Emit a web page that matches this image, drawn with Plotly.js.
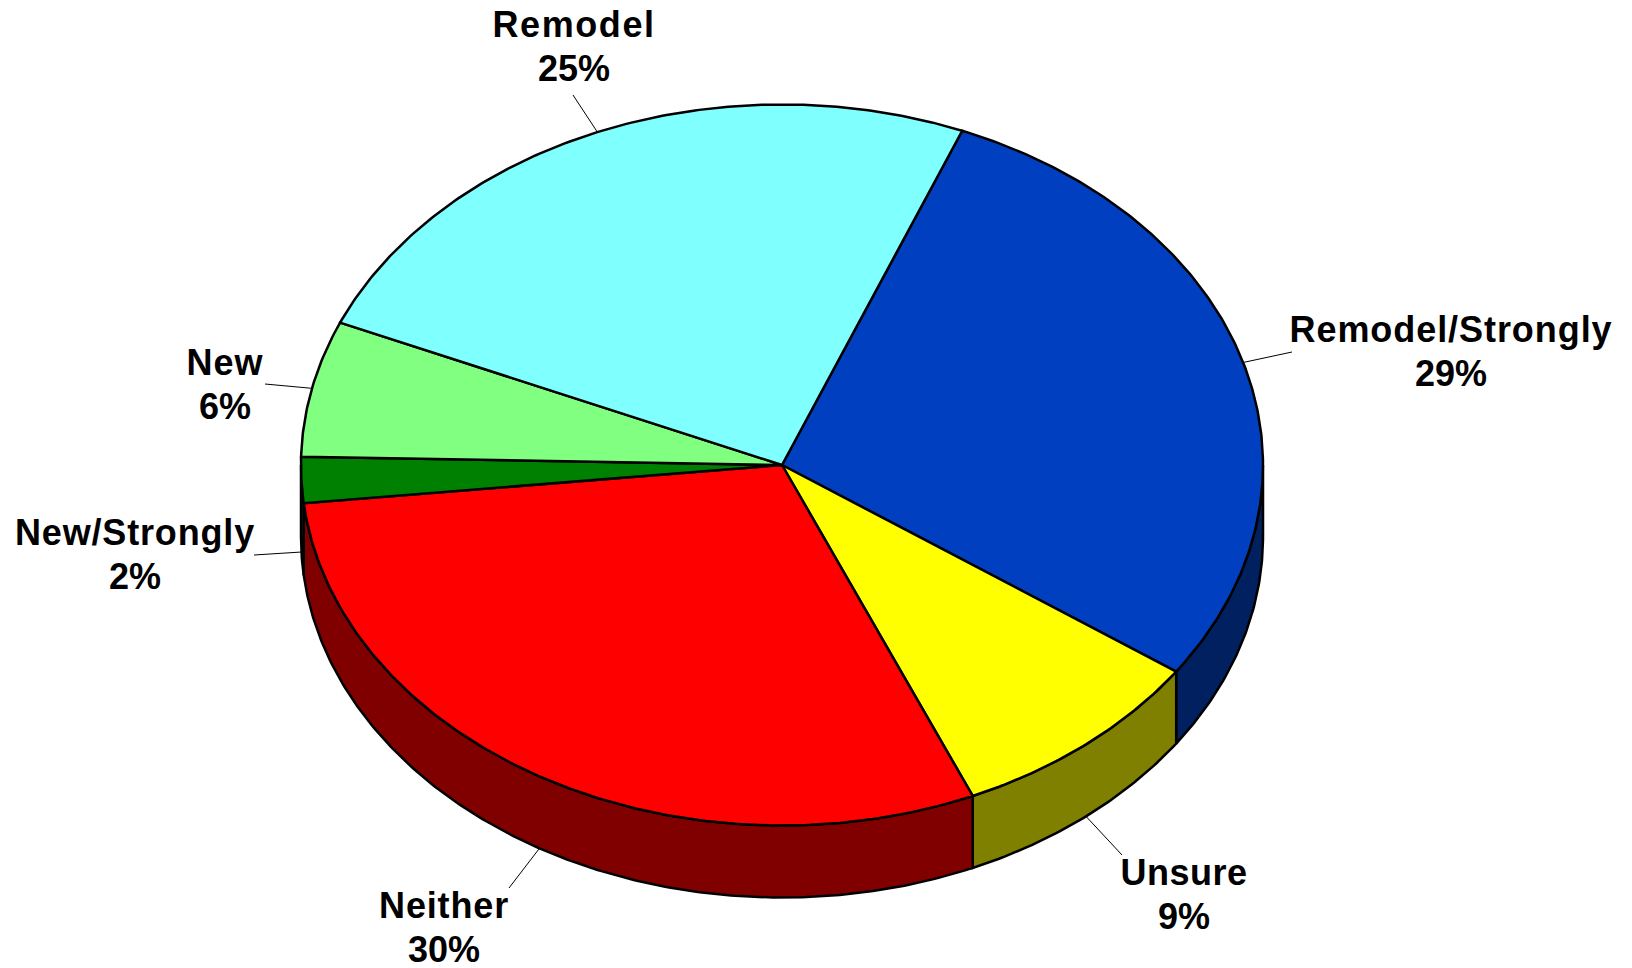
<!DOCTYPE html>
<html><head><meta charset="utf-8">
<script src="https://cdn.plot.ly/plotly-3.0.1.min.js"></script>
<style>html,body{margin:0;padding:0;background:#fff}#c{width:1632px;height:968px}</style>
</head><body><div id="c"></div>
<script>
const categories=["Remodel/Strongly","Unsure","Neither","New/Strongly","New","Remodel"];
const shares=[28.6,8.8,29.8,2.05,6.1,24.65];
const tickLabels=["29%","9%","30%","2%","6%","25%"];
const topColors=["#0040C0","#FFFF00","#FF0000","#008000","#80FF80","#80FFFF"];
const sideColors=["#002060","#808000","#800000","#004000","#408040","#408080"];
const labelPos=[[1451,351],[1184,894],[444,927],[135,554],[225,384],[574,46]];
const labelSpacing=[0.94,0.5,0.85,0.83,1,1.57];
const leaderEnds=[[1292,352],[1122,855],[509,888],[254,555],[265,384],[573,95]];
const leaderShift=[0,0,0,0,0,-0.2];
const startDeg=22, cx=782, cy=465, rx=481, ry=360.5, depth=72, lineGap=22;
const pt=(deg,dy=0)=>{const t=deg*Math.PI/180;return [cx+rx*Math.sin(t),cy-ry*Math.cos(t)+dy];};
const total=shares.reduce((a,b)=>a+b,0);
let a=startDeg; const arcs=shares.map(s=>{const r=[a,a+s/total*360];a=r[1];return r;});
const arcPts=(a0,a1,dy=0)=>{const o=[];const n=Math.max(2,Math.ceil((a1-a0)*2));for(let i=0;i<=n;i++)o.push(pt(a0+(a1-a0)*i/n,dy));return o;};
const traces=[];
const poly=(p,fill,w=2.5)=>traces.push({type:'scatter',mode:'lines',x:p.map(q=>q[0]),y:p.map(q=>q[1]),fill:'toself',fillcolor:fill,line:{color:'#000',width:w,shape:'linear'},hoverinfo:'skip',showlegend:false});
arcs.forEach((r,i)=>{
  const s=Math.max(r[0],90),e=Math.min(r[1],270);
  if(s<e){const top=arcPts(s,e),bot=arcPts(s,e,depth).reverse();poly(top.concat(bot,[top[0]]),sideColors[i]);}
});
arcs.forEach((r,i)=>{poly([[cx,cy]].concat(arcPts(r[0],r[1]),[[cx,cy]]),topColors[i]);});
arcs.forEach((r,i)=>{
  const mid=(r[0]+r[1])/2+leaderShift[i], side=(mid>90&&mid<270)?depth:0;
  const p=pt(mid,side);
  traces.push({type:'scatter',mode:'lines',x:[p[0],leaderEnds[i][0]],y:[p[1],leaderEnds[i][1]],line:{color:'#000',width:1},hoverinfo:'skip',showlegend:false});
});
const font={family:'Liberation Sans, Arial, sans-serif',size:36,color:'#000',weight:700};
const annotations=[];
categories.forEach((c,i)=>{
  annotations.push({x:labelPos[i][0],y:labelPos[i][1]-lineGap,xref:'x',yref:'y',text:c,showarrow:false,font});
  annotations.push({x:labelPos[i][0],y:labelPos[i][1]+lineGap,xref:'x',yref:'y',text:tickLabels[i],showarrow:false,font});
});
Plotly.newPlot('c',traces,{width:1632,height:968,margin:{l:0,r:0,t:0,b:0},paper_bgcolor:'#fff',plot_bgcolor:'#fff',showlegend:false,
 xaxis:{range:[0,1632],visible:false,fixedrange:true},yaxis:{range:[968,0],visible:false,fixedrange:true},annotations},{displayModeBar:false,staticPlot:true}).then(()=>{
  document.querySelectorAll('.annotation text').forEach(t=>{
    const i=categories.indexOf(t.textContent);
    if(i>=0) t.style.letterSpacing=labelSpacing[i]+'px';
  });
});
</script></body></html>
